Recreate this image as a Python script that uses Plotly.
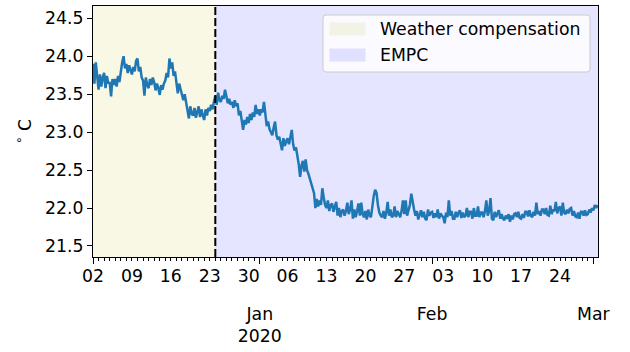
import pandas as pd
import plotly.graph_objects as go

# ---------------- data ----------------
start_time = "2019-12-02 00:00"
step = "6h"
temperature = [
    23.90, 23.64, 23.92, 23.70,  23.56, 23.76, 23.60, 23.72,  23.78, 23.58, 23.74, 23.64,
    23.66, 23.47, 23.70, 23.62,  23.70, 23.60, 23.74, 23.66,  23.82, 23.92, 24.00, 23.84,
    23.90, 23.78, 23.88, 23.80,  23.76, 23.86, 23.80, 23.94,  23.97, 23.80, 23.86, 23.72,
    23.68, 23.48, 23.72, 23.62,  23.58, 23.70, 23.62, 23.72,  23.66, 23.55, 23.64, 23.58,
    23.49, 23.62, 23.56, 23.64,  23.68, 23.78, 23.72, 23.97,  23.84, 23.92, 23.74, 23.80,
    23.62, 23.51, 23.64, 23.56,  23.52, 23.42, 23.50, 23.40,  23.32, 23.18, 23.34, 23.24,
    23.22, 23.32, 23.19, 23.28,  23.34, 23.20, 23.30, 23.22,  23.16, 23.30, 23.22, 23.32,
    23.28, 23.36, 23.30, 23.40,  23.48, 23.36, 23.52, 23.42,  23.40, 23.48, 23.44, 23.56,
    23.46, 23.38, 23.44, 23.36,  23.40, 23.32, 23.42, 23.34,  23.38, 23.22, 23.28, 23.12,
    23.03, 23.16, 23.10, 23.20,  23.12, 23.24, 23.16, 23.26,  23.20, 23.36, 23.24, 23.30,
    23.22, 23.30, 23.26, 23.40,  23.22, 23.08, 23.14, 23.04,  23.00, 22.96, 23.06, 23.14,
    22.96, 22.90, 22.94, 22.84,  22.76, 22.92, 22.82, 22.88,  22.92, 22.84, 22.96, 23.03,
    22.84, 22.76, 22.80, 22.70,  22.58, 22.41, 22.56, 22.62,  22.48, 22.64, 22.50, 22.45,
    22.38, 22.32, 22.26, 22.20,  22.00, 22.12, 22.02, 22.10,  22.04, 22.26, 22.14, 22.04,
    22.00, 22.10, 21.96, 22.04,  22.06, 21.95, 22.02, 22.08,  21.90, 22.00, 21.88, 21.96,
    21.98, 21.90, 21.96, 22.07,  21.92, 21.98, 22.10, 21.86,  21.98, 21.88, 21.96, 22.06,
    21.90, 22.07, 21.92, 21.88,  21.96, 21.85, 21.98, 21.90,  21.88, 22.04, 22.16, 22.24,
    22.20, 22.04, 21.94, 21.90,  21.88, 21.96, 21.86, 21.94,  22.08, 21.90, 21.98, 21.88,
    21.90, 22.02, 21.88, 21.96,  21.92, 21.88, 21.96, 22.10,  21.92, 22.10, 21.90, 21.96,
    22.04, 22.19, 22.06, 21.98,  21.90, 21.96, 21.85, 21.92,  21.97, 21.88, 21.95, 21.86,
    21.84, 21.98, 21.90, 21.94,  21.95, 21.87, 21.93, 21.88,  21.98, 21.86, 21.93, 21.90,
    21.88, 21.80, 21.94, 21.88,  22.10, 21.90, 21.96, 21.86,  21.86, 21.95, 21.88, 21.94,
    21.97, 21.87, 21.94, 21.88,  21.90, 22.00, 21.88, 21.95,  21.95, 21.86, 22.00, 21.90,
    21.90, 22.02, 21.88, 21.94,  21.94, 21.88, 21.96, 22.10,  21.90, 21.96, 22.13, 21.86,
    21.84, 21.95, 21.88, 21.93,  21.97, 21.86, 21.92, 21.86,  21.84, 21.90, 21.86, 21.92,
    21.82, 21.90, 21.85, 21.92,  21.93, 21.88, 21.95, 21.87,  21.86, 21.92, 21.87, 21.95,
    21.95, 21.89, 21.97, 21.90,  21.88, 21.95, 21.90, 22.07,  21.92, 21.96, 21.90, 21.98,
    21.98, 21.92, 22.00, 21.91,  21.90, 22.03, 21.92, 21.98,  21.96, 22.08, 21.93, 22.00,
    22.02, 21.90, 22.07, 21.94,  21.92, 21.98, 21.93, 21.99,  22.00, 21.90, 21.96, 21.89,
    21.88, 21.94, 21.86, 21.95,  21.95, 21.90, 21.97, 21.91,  21.92, 21.98, 21.94, 22.00,
    21.97, 22.04, 22.00, 22.04,
]
regime_names = ["Weather compensation", "EMPC"]
regime_starts = ["2019-12-02 00:00", "2019-12-24 00:00"]
regime_colors = ["rgba(191,191,0,0.1)", "rgba(0,0,255,0.1)"]
x_end = "2020-03-01 20:00"
week_ticks = ["2019-12-02", "2019-12-09", "2019-12-16", "2019-12-23", "2019-12-30",
              "2020-01-06", "2020-01-13", "2020-01-20", "2020-01-27", "2020-02-03",
              "2020-02-10", "2020-02-17", "2020-02-24"]
month_ticks = ["2019-12-02", "2020-01-01", "2020-02-01", "2020-03-01"]
month_labels = ["", "Jan<br>2020", "Feb", "Mar"]
y_ticks = [21.5, 22.0, 22.5, 23.0, 23.5, 24.0, 24.5]
y_range = [21.355, 24.662]

# ---------------- layout geometry (pixels) ----------------
W, H = 630, 352
ML, MR, MT, MB = 93, 32, 6, 95
PW, PH = W - ML - MR, H - MT - MB


def px_x(px):
    return (px - ML) / PW


def px_y(py):
    return 1 - (py - MT) / PH


times = pd.date_range(start_time, periods=len(temperature), freq=step)
font = dict(family="DejaVu Sans", size=17.3, color="black")

fig = go.Figure()
fig.add_trace(go.Scatter(x=times, y=temperature, mode="lines",
                         line=dict(color="#1f77b4", width=2.5), showlegend=False,
                         hoverinfo="skip"))

bounds = regime_starts + [x_end]
for i, name in enumerate(regime_names):
    fig.add_shape(type="rect", xref="x", yref="paper", x0=bounds[i], x1=bounds[i + 1],
                  y0=0, y1=1, fillcolor=regime_colors[i], line=dict(width=0),
                  layer="below")

fig.add_shape(type="line", xref="x", yref="paper", x0=regime_starts[1], x1=regime_starts[1],
              y0=0, y1=1, line=dict(color="black", width=2, dash="8px,3px"), layer="above")

# legend drawn like matplotlib's (frame + patches + labels)
lx0, lx1, ly0, ly1, r = 323, 590, 15, 72, 3
path = (f"M {lx0 + r},{ly0} L {lx1 - r},{ly0} Q {lx1},{ly0} {lx1},{ly0 + r} "
        f"L {lx1},{ly1 - r} Q {lx1},{ly1} {lx1 - r},{ly1} L {lx0 + r},{ly1} "
        f"Q {lx0},{ly1} {lx0},{ly1 - r} L {lx0},{ly0 + r} Q {lx0},{ly0} {lx0 + r},{ly0} Z")


def to_paper_path(p):
    out = []
    for tok in p.split(" "):
        if "," in tok:
            a, b = tok.split(",")
            out.append(f"{px_x(float(a)):.5f},{px_y(float(b)):.5f}")
        else:
            out.append(tok)
    return " ".join(out)


fig.add_shape(type="path", xref="paper", yref="paper", path=to_paper_path(path),
              fillcolor="rgba(255,255,255,0.8)", line=dict(color="#cccccc", width=1),
              layer="above")
patch_rows = [(22.5, 35.5), (48.5, 61.5)]
for i, name in enumerate(regime_names):
    y0p, y1p = patch_rows[i]
    fig.add_shape(type="rect", xref="paper", yref="paper",
                  x0=px_x(329.5), x1=px_x(365.5), y0=px_y(y1p), y1=px_y(y0p),
                  fillcolor=regime_colors[i], line=dict(width=0), layer="above")
    fig.add_annotation(xref="paper", yref="paper", x=px_x(378), y=px_y((y0p + y1p) / 2),
                       xanchor="left", yanchor="middle", text=name, showarrow=False,
                       font=font)

fig.update_layout(
    width=W, height=H,
    margin=dict(l=ML, r=MR, t=MT, b=MB),
    paper_bgcolor="white", plot_bgcolor="white",
    font=font, showlegend=False,
    xaxis=dict(range=[start_time, x_end], tickvals=week_ticks, tickformat="%d",
               ticks="outside", ticklen=3, tickwidth=1, tickcolor="black",
               minor=dict(dtick=86400000, ticks="outside", ticklen=3, tickcolor="black"),
               showgrid=False, showline=True, linecolor="black", linewidth=1, mirror=True,
               zeroline=False, tickfont=font, automargin=False),
    xaxis2=dict(overlaying="x", anchor="y", side="bottom", range=[start_time, x_end],
                tickvals=month_ticks, ticktext=month_labels, ticks="outside", ticklen=6,
                tickwidth=1, tickcolor="black", showgrid=False, showline=False,
                zeroline=False, ticklabelstandoff=35, tickfont=font, automargin=False),
    yaxis=dict(range=y_range, tickvals=y_ticks, tickformat=".1f", ticks="outside",
               ticklen=5, tickwidth=1, tickcolor="black", showgrid=False,
               showline=True, linecolor="black", linewidth=1, mirror=True, zeroline=False,
               title=dict(text="<sup>∘</sup> C", standoff=9, font=font), tickfont=font,
               automargin=False),
)
# invisible trace to activate xaxis2
fig.add_trace(go.Scatter(x=[times[0]], y=[temperature[0]], xaxis="x2", mode="markers",
                         marker=dict(opacity=0), showlegend=False, hoverinfo="skip"))

fig.write_html("out.html", config={"displayModeBar": False},
               post_script="document.body.style.margin='0';document.body.style.padding='0';")
